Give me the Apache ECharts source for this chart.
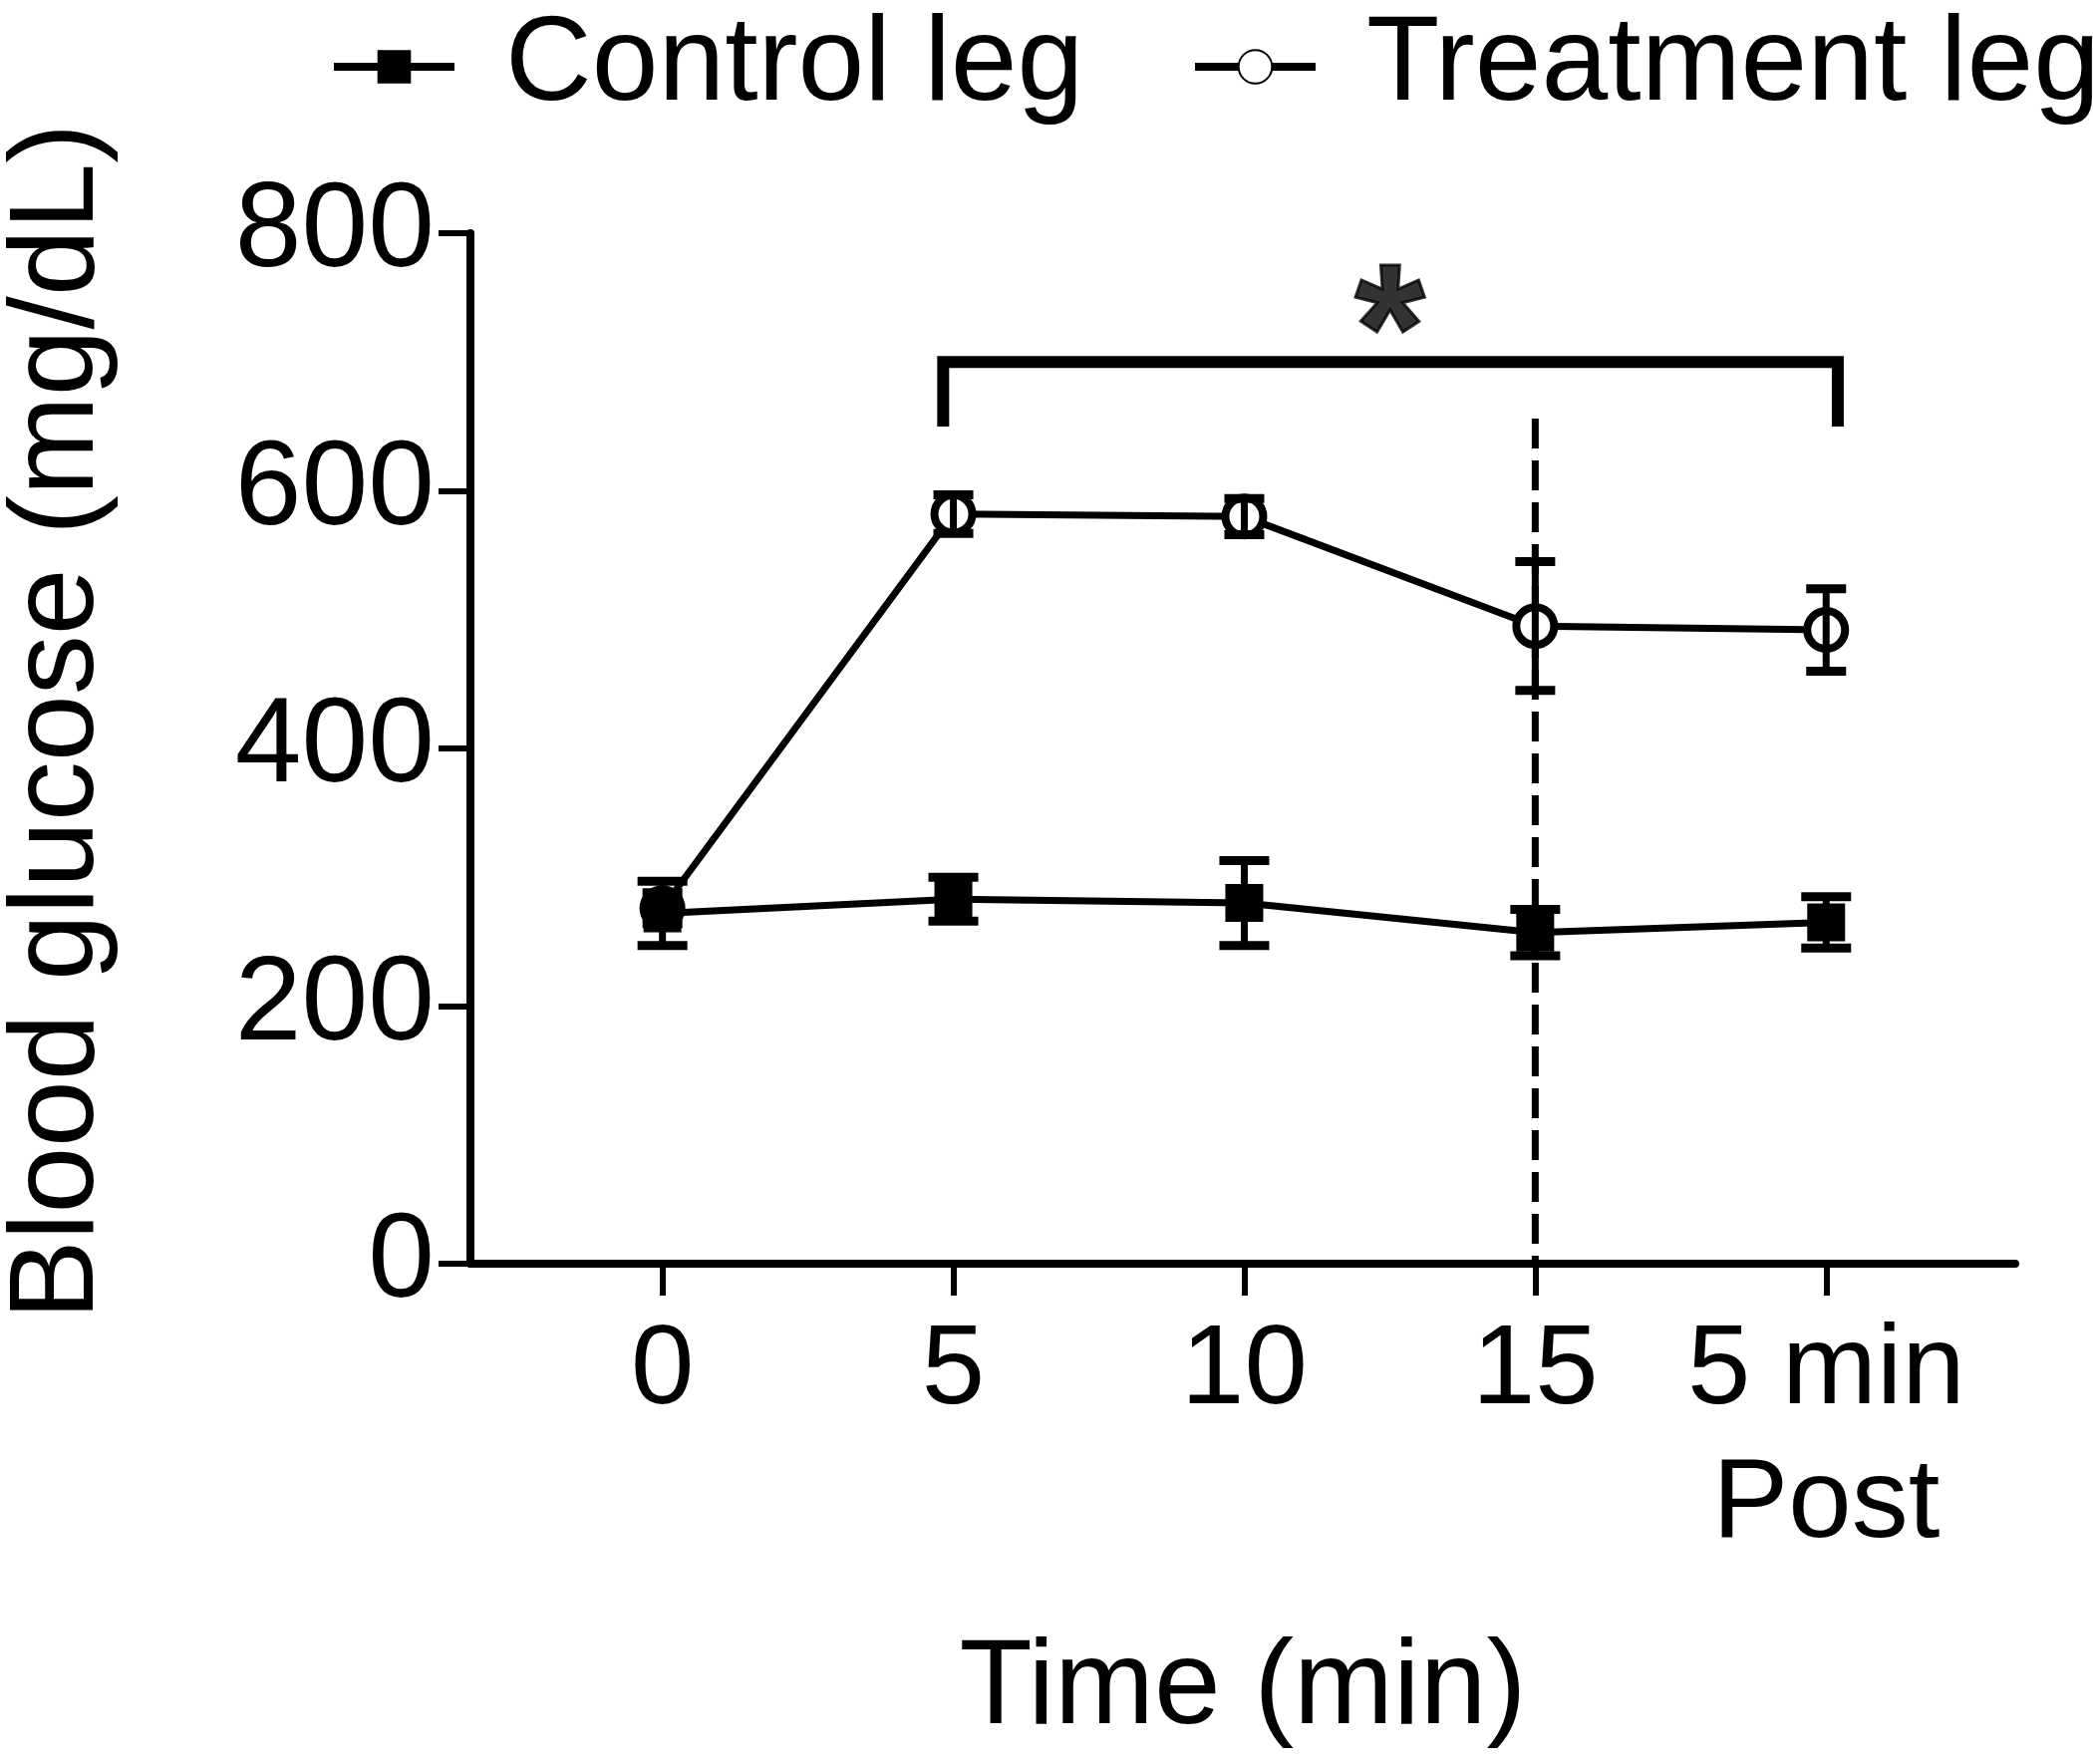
<!DOCTYPE html>
<html><head><meta charset="utf-8">
<script src="https://cdn.jsdelivr.net/npm/echarts@6/dist/echarts.min.js"></script>
<style>html,body{margin:0;padding:0;background:#fff}#c{width:2100px;height:1770px}</style>
</head><body><div id="c"></div>
<script>
// ---- data ----
const positions = [0, 1, 2, 3, 4];
const tickLabels = ['0', '5', '10', '15', '5 min\nPost'];
const yTicks = [0, 200, 400, 600, 800];
const controlMean = [272, 283, 280, 257, 265];
const controlSEM = [25, 17, 33, 18, 20];
const treatmentMean = [276, 582, 580, 495, 492];
const treatmentSEM = [12, 15, 14, 50, 32];
const dashedLine = [[3, 656], [3, -10]];
const bracket = [[0.965, 650], [0.965, 700], [4.04, 700], [4.04, 650]];
const starPoint = [[2.5, 749]];
const seriesNames = ['Control leg', 'Treatment leg'];
const yTitle = 'Blood glucose (mg/dL)';
const xTitle = 'Time (min)';

const FONT = 'Liberation Sans, Arial, sans-serif';
const chart = echarts.init(document.getElementById('c'), null, {renderer: 'canvas'});

function errData(mean, sem) {
  return positions.map((p, i) => [p, mean[i] - sem[i], mean[i] + sem[i]]);
}
function errRender(capHalf) {
  return function (params, api) {
    const x = api.value(0), lo = api.value(1), hi = api.value(2);
    const a = api.coord([x, hi]), b = api.coord([x, lo]);
    const st = {stroke: '#000', lineWidth: 7};
    const cs = {stroke: '#000', lineWidth: 9};
    return {type: 'group', children: [
      {type: 'line', shape: {x1: a[0], y1: a[1], x2: b[0], y2: b[1]}, style: st},
      {type: 'line', shape: {x1: a[0] - capHalf, y1: a[1], x2: a[0] + capHalf, y2: a[1]}, style: cs},
      {type: 'line', shape: {x1: b[0] - capHalf, y1: b[1], x2: b[0] + capHalf, y2: b[1]}, style: cs}
    ]};
  };
}

const legendBase = {
  top: 2, itemWidth: 121, itemHeight: 42,
  lineStyle: {width: 8, color: '#000'},
  textStyle: {fontFamily: FONT, fontSize: 120, color: '#000', padding: [0, 0, 0, 46]},
  selectedMode: false
};

chart.setOption({
  animation: false,
  backgroundColor: '#fff',
  grid: {left: 472, right: 78, top: 234, bottom: 502, containLabel: false},
  legend: [
    Object.assign({}, legendBase, {data: [seriesNames[0]], left: 326}),
    Object.assign({}, legendBase, {data: [seriesNames[1]], left: 1190})
  ],
  xAxis: {
    type: 'value', min: -0.66, max: 4.65,
    name: xTitle, nameLocation: 'middle', nameGap: 368,
    nameTextStyle: {fontFamily: FONT, fontSize: 120, color: '#000'},
    axisLine: {show: true, onZero: true, lineStyle: {color: '#000', width: 8}},
    axisTick: {show: true, customValues: positions, length: 32, lineStyle: {color: '#000', width: 6}},
    axisLabel: {customValues: positions, formatter: v => tickLabels[positions.indexOf(v)],
      fontFamily: FONT, fontSize: 114, lineHeight: 134, color: '#000', margin: 42},
    splitLine: {show: false}
  },
  yAxis: {
    type: 'value', min: 0, max: 800, interval: 200,
    axisLine: {show: true, onZero: false, lineStyle: {color: '#000', width: 8}},
    axisTick: {show: true, length: 32, lineStyle: {color: '#000', width: 6}},
    axisLabel: {fontFamily: FONT, fontSize: 120, color: '#000', margin: 36,
      formatter: v => String(yTicks[yTicks.indexOf(v)])},
    splitLine: {show: false}
  },
  graphic: [{
    type: 'text', x: 60, y: 724, rotation: Math.PI / 2,
    style: {text: yTitle, font: '120px ' + FONT, fill: '#000', textAlign: 'center', textVerticalAlign: 'middle'}
  }],
  series: [
    {
      name: 'dash', type: 'line', data: dashedLine, symbol: 'none', silent: true, z: 1,
      lineStyle: {color: '#000', width: 7, type: [30, 12]}
    },
    {
      name: 'bracket', type: 'line', data: bracket, symbol: 'none', silent: true, z: 1,
      lineStyle: {color: '#000', width: 12, cap: 'butt', join: 'miter'}
    },
    {
      name: 'star', type: 'scatter', data: starPoint, symbolSize: 1, silent: true,
      itemStyle: {color: 'rgba(0,0,0,0)'},
      label: {show: true, formatter: '*', position: 'inside', offset: [0, 40], fontFamily: FONT,
        fontWeight: 'bold', fontSize: 180, color: '#000', textBorderColor: '#000', textBorderWidth: 3}
    },
    {
      name: seriesNames[1], type: 'line', data: positions.map((p, i) => [p, treatmentMean[i]]),
      symbol: 'circle', symbolSize: 38, z: 3,
      itemStyle: {color: '#fff', borderColor: '#000', borderWidth: 8},
      lineStyle: {color: '#000', width: 7}
    },
    {
      name: 'tErr', type: 'custom', data: errData(treatmentMean, treatmentSEM),
      renderItem: errRender(20), z: 4, silent: true
    },
    {
      name: seriesNames[0], type: 'line', data: positions.map((p, i) => [p, controlMean[i]]),
      symbol: 'rect', symbolSize: 38, z: 5,
      itemStyle: {color: '#000'},
      lineStyle: {color: '#000', width: 7}
    },
    {
      name: 'cErr', type: 'custom', data: errData(controlMean, controlSEM),
      renderItem: errRender(25), z: 6, silent: true
    }
  ]
});
</script></body></html>
